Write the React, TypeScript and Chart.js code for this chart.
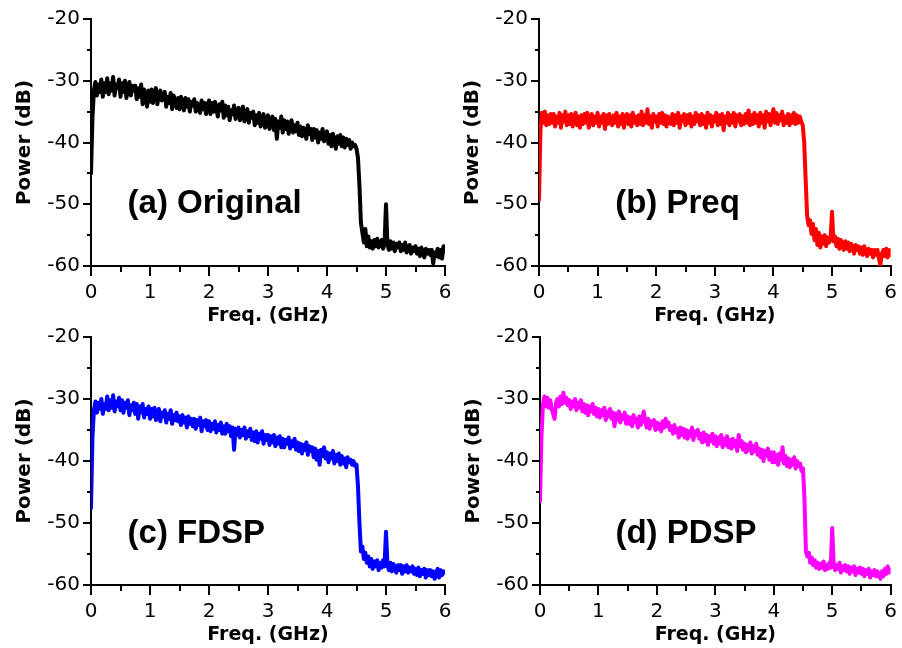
import React, { useEffect, useRef } from 'react';
import { Chart, registerables } from 'chart.js';

Chart.register(...registerables);

// Frequency sampling grid (GHz): sample i sits at i * FREQ_STEP_GHZ, 0 .. 6 GHz
const FREQ_STEP_GHZ = 0.025;

// (a) Original spectrum, dB (one row = 0.25 GHz)
const ORIGINAL_DB = [
  -45, -36, -31.5, -30.2, -32.4, -30.6, -31.8, -29.8, -32.6, -30.4,
  -31.8, -29.6, -32.2, -30.4, -31.6, -29.4, -32.4, -30.6, -31.2, -29.8,
  -32.6, -30.4, -31.8, -30, -32.8, -31.2, -30.2, -32.4, -30.8, -31.6,
  -30.8, -33, -31.2, -32.6, -30.6, -33.8, -31.4, -32.2, -34.2, -31.6,
  -33.4, -31.4, -33.6, -32, -31.2, -33.8, -32.2, -31.6, -33.2, -32.4,
  -31.8, -34.2, -32.6, -33.6, -32, -34.6, -32.4, -33.2, -34.4, -32.8,
  -34.6, -32.6, -33.8, -34.8, -32.8, -34.2, -33, -35, -33.4, -34,
  -33, -35, -33.6, -34.4, -35.2, -33.2, -34.6, -33.6, -35.4, -34,
  -33.2, -35.4, -33.6, -35, -33.4, -34.6, -35.8, -33.8, -34.8, -33.4,
  -36, -34, -35.6, -34.2, -36.4, -34.8, -35.4, -34, -36.2, -35,
  -34.4, -36.4, -35, -34.2, -36.6, -35.2, -34.6, -36.8, -35.2, -36,
  -35, -37.2, -35.6, -36.8, -35.2, -37.4, -36, -35.4, -37.6, -36.2,
  -35.6, -37.8, -36.4, -35.8, -38, -36.2, -39.4, -36.6, -37.6, -35.8,
  -38.4, -36.4, -37.8, -36.6, -38.6, -37, -36.4, -38.4, -37.2, -38.2,
  -36.8, -38.8, -37.4, -39, -37.6, -38.2, -39.4, -37.2, -38.6, -37.8,
  -39.6, -37.8, -39.2, -38, -40, -38.4, -39.4, -37.8, -39.8, -38.6,
  -38.2, -40.2, -38.8, -40.6, -38.6, -39.8, -41, -39, -40.2, -38.8,
  -40.6, -39.2, -40.8, -39.4, -40.4, -39.6, -41, -40, -40.6, -40.4,
  -41, -42.5, -47, -53, -54.6, -56.2, -54, -56.8, -55.2, -57,
  -56, -57.2, -55.8, -56.8, -55.6, -57, -56.2, -55.8, -57.2, -56.4,
  -50, -56.6, -57.4, -56, -57.2, -56.2, -57.6, -56.4, -57, -56.2,
  -57.6, -56.6, -57.4, -56.2, -57.8, -57, -56.6, -58, -57, -57.6,
  -56.8, -58, -57.2, -58.4, -57, -57.8, -58.6, -57.2, -58, -57.4,
  -58.2, -57.4, -59.6, -57.8, -58.4, -57.2, -58.6, -57.4, -58.8, -56.8,
  -57.6,
];

// (b) Pre-equalized spectrum, dB
const PREQ_DB = [
  -49.3, -38, -35.2, -36.8, -35, -37.2, -35.6, -37, -35.4, -36.8,
  -35.4, -37.4, -35.8, -36.8, -35.2, -37.6, -35.6, -36.6, -35, -37.2,
  -35.6, -37, -35.4, -37.4, -36, -35.2, -37.2, -35.8, -37.6, -35.6,
  -37, -35.4, -36.8, -35.2, -37.6, -36, -35.4, -37.2, -35.8, -36.8,
  -35.2, -37.4, -35.8, -36.8, -35.4, -37.8, -35.6, -37, -35.4, -36.6,
  -37.2, -35.6, -36.8, -35.2, -37.4, -35.8, -37, -35.4, -37.6, -36,
  -35.4, -37, -35.6, -37.4, -35.2, -36.8, -35.8, -37.2, -35.6, -37,
  -35, -37.2, -35.6, -36.8, -34.6, -37, -35.8, -37.6, -35.4, -36.6,
  -35.8, -37.4, -35.4, -36.8, -35.2, -37, -35.6, -37.4, -35.8, -36.4,
  -37, -35.4, -37.2, -35.6, -36.8, -35.2, -37.6, -35.8, -36.6, -35.4,
  -37.2, -35.6, -36.8, -35.4, -37.4, -35.8, -37, -35.2, -36.6, -35.6,
  -37.2, -35.4, -37, -35.8, -37.6, -35.2, -36.8, -35.6, -37.4, -35.8,
  -36.6, -35.2, -37.2, -35.6, -37, -35.4, -38, -35.8, -36.8, -35.2,
  -37.2, -35.6, -36.8, -35.2, -37.4, -35.6, -36.6, -35.4, -37.2, -35.8,
  -37, -35.4, -36.8, -34.8, -37.2, -35.6, -37, -35.2, -36.8, -35.6,
  -37.4, -35.2, -36.8, -35.6, -37.6, -35, -36.6, -35.4, -37.2, -35.6,
  -34.6, -36.8, -35.2, -37, -35.6, -36.4, -35, -37.2, -35.8, -36.8,
  -35.4, -37.2, -35.6, -36.8, -35.2, -37, -35.6, -36.8, -35.8, -36.6,
  -37.2, -40, -46, -51.8, -53.4, -52.6, -54.8, -53.2, -55.8, -54,
  -56.6, -54.6, -57, -55.2, -56.4, -55, -56.8, -55.4, -56.2, -55.6,
  -51.2, -56, -55.2, -56.8, -55.6, -57.2, -55.8, -56.6, -57.4, -56,
  -57.2, -56.2, -57.6, -56.4, -57, -58, -56.6, -57.4, -56.8, -58,
  -57, -58.2, -56.8, -57.6, -58.4, -57.2, -58, -57.4, -58.6, -57.4,
  -58.2, -57.4, -58.8, -59.8, -58, -57.4, -58.4, -57.2, -58.6, -57.4,
  -58.2,
];

// (c) FDSP spectrum, dB
const FDSP_DB = [
  -47.6, -36, -31.8, -30.4, -32.2, -30.6, -31.6, -30, -32.4, -30.8,
  -31.6, -29.6, -31.8, -30.2, -31.4, -29.4, -32, -30.4, -31.2, -29.8,
  -31.8, -30.2, -32.2, -30.6, -31.4, -30.2, -32.6, -31, -31.8, -30.6,
  -32.4, -30.8, -33.2, -31.2, -32.2, -30.8, -33, -31.6, -32.4, -31.2,
  -33.2, -31.6, -32.8, -31.4, -33.4, -32, -31.6, -33.6, -32.2, -32.8,
  -31.8, -33.8, -32.4, -33.2, -31.8, -34, -32.6, -33.4, -32.2, -33.6,
  -32.8, -34.2, -32.6, -33.8, -33, -34.6, -32.8, -34, -33.2, -34.4,
  -33.2, -34.8, -33.4, -34.2, -33, -35.2, -33.6, -34.4, -33.4, -35,
  -33.6, -35.2, -34, -34.8, -33.6, -35.4, -34.2, -35, -33.8, -35.6,
  -34.4, -35.6, -34, -35.2, -34.4, -36, -34.6, -38.2, -34.8, -35.8,
  -34.6, -36.2, -35, -35.8, -34.6, -36.4, -35.2, -36, -34.8, -36.6,
  -35.4, -36.8, -35.2, -37, -35.6, -36.4, -35.2, -37.2, -35.8, -36.6,
  -35.8, -37.4, -36, -37, -35.8, -37.6, -36.2, -37.2, -36, -37.8,
  -36.4, -37.8, -36.6, -37.2, -36.2, -38, -36.8, -37.6, -36.4, -38.2,
  -37, -38.4, -37.2, -38.8, -37.4, -38.2, -37, -39, -37.6, -38.4,
  -37.8, -39.4, -38, -39.8, -38.4, -40.6, -38.2, -39.2, -37.8, -39.6,
  -38.6, -40.2, -38.8, -39.6, -38.4, -40.4, -39, -40, -38.8, -40.6,
  -39.2, -40.4, -39.6, -41, -39.4, -40.2, -39.8, -40.6, -40, -40.8,
  -40.6, -44, -50, -54.6, -53.8, -55.8, -54.8, -56.4, -55.4, -57,
  -55.8, -57.4, -56.2, -57, -56, -57.6, -56.4, -57.2, -56, -57,
  -51.4, -56.8, -57.6, -56.4, -57.8, -56.6, -57.4, -58, -56.8, -57.6,
  -56.8, -58.2, -57, -57.8, -56.8, -58, -57.2, -57.8, -57, -58.2,
  -57.4, -58.4, -57.2, -58.6, -57.6, -58.2, -57.4, -58.8, -57.6, -58.4,
  -57.6, -58.6, -57.8, -59, -58, -57.4, -58.8, -57.6, -58.4, -57.8,
  -58,
];

// (d) PDSP spectrum, dB
const PDSP_DB = [
  -46.5, -36, -31, -29.6, -31.2, -29.8, -31.4, -30.2, -31.6, -32.4,
  -33.2, -30.6, -30, -31.2, -29.6, -30.8, -29, -30.6, -29.8, -31,
  -30.2, -31.6, -30.4, -31.2, -30, -31.8, -30.6, -31.4, -30.2, -32,
  -30.8, -32.2, -31, -32.6, -31.2, -32, -30.8, -32.4, -31.4, -32.8,
  -31.6, -33, -31.8, -32.6, -31.4, -33.4, -32, -32.8, -31.6, -33.2,
  -32.2, -34.4, -32.4, -33.4, -32, -33.8, -32.6, -33.2, -32.2, -34,
  -32.8, -34, -33, -34.4, -32.6, -33.8, -33.2, -34.6, -32.8, -34.2,
  -33.4, -32, -33.6, -34.6, -33.2, -34.8, -33.6, -34.2, -33.4, -35,
  -33.8, -34.8, -34, -35.2, -33.6, -34.6, -33.2, -34.4, -33.8, -35,
  -34.4, -35.6, -34.2, -35.4, -34.8, -36.2, -34.6, -35.8, -34.8, -36.2,
  -35, -36.4, -35.2, -36, -34.6, -36.6, -35.2, -35.8, -35, -36.4,
  -35.6, -37, -35.4, -36.8, -35.8, -37.4, -36, -36.8, -35.6, -37.2,
  -36, -37.6, -36.2, -37.2, -35.8, -37.8, -36.4, -37.4, -36, -37.8,
  -36.6, -38, -36.4, -37.6, -36.8, -38.4, -35.8, -37.6, -36.8, -38.2,
  -37.2, -38.6, -37.4, -38.2, -37, -38.8, -37.6, -38.4, -37.2, -39,
  -38, -39.4, -38.2, -40, -38.4, -39.2, -38, -39.8, -38.6, -40.2,
  -38.6, -40.2, -39, -40.6, -38.8, -39.8, -37.8, -40.4, -39.2, -40.8,
  -39.6, -41, -39.8, -40.6, -39.4, -41.2, -40, -40.8, -40.4, -41.6,
  -41.2, -46, -54.6, -55.4, -54.8, -56.4, -55.6, -56.8, -56, -57.2,
  -56.4, -57.4, -56.6, -57.2, -56.2, -57.6, -56.8, -57.4, -56.4, -57.2,
  -50.8, -56.6, -57.6, -56.8, -57.4, -56.4, -58, -57, -57.6, -56.8,
  -57.8, -57, -58.2, -57.2, -57.8, -57, -58.4, -57.4, -58, -57.2,
  -58.2, -57.4, -58.6, -57.6, -58.2, -57.4, -58.8, -57.8, -58.4, -57.6,
  -58.6, -57.8, -58.4, -59, -57.8, -58.6, -57.4, -58.2, -57, -58,
  -57.6,
];

const X_TICKS = [0, 1, 2, 3, 4, 5, 6];
const X_MINOR_TICKS = [0.5, 1.5, 2.5, 3.5, 4.5, 5.5];
const Y_TICKS = [-60, -50, -40, -30, -20];
const Y_MINOR_TICKS = [-55, -45, -35, -25];
const X_TITLE = 'Freq. (GHz)';
const Y_TITLE = 'Power (dB)';

const PANEL_LABELS = ['(a) Original', '(b) Preq', '(c) FDSP', '(d) PDSP'];
const PANEL_COLORS = ['#000000', '#ff0000', '#0000ff', '#ff00ff'];
const PANEL_SERIES = [ORIGINAL_DB, PREQ_DB, FDSP_DB, PDSP_DB];
// where each panel's label sits, in data coordinates (GHz, dB)
const LABEL_X = [0.62, 1.3, 0.62, 1.29];
const LABEL_Y = [-50, -50, -51.8, -51.8];

// layout (pixels)
const W = 902;
const H = 648;
const Y_BOX_W = 91;
const X_BOX_H = 61;
const AREAS = [
  { left: 91, right: 445, top: 19, bottom: 266 },
  { left: 539, right: 893, top: 19, bottom: 266 },
  { left: 91, right: 445, top: 337, bottom: 585 },
  { left: 540, right: 894, top: 337, bottom: 585 },
];

const TICK_FONT = 'DejaVu Sans';

const minorTicksPlugin = {
  id: 'minorTicks',
  afterDraw(chart: any) {
    const { ctx } = chart;
    const x = chart.scales.x;
    const y = chart.scales.y;
    ctx.save();
    ctx.strokeStyle = '#000';
    ctx.lineWidth = 2;
    ctx.beginPath();
    X_MINOR_TICKS.forEach((v) => {
      const px = Math.round(x.getPixelForValue(v));
      ctx.moveTo(px, x.top);
      ctx.lineTo(px, x.top + 6);
    });
    Y_MINOR_TICKS.forEach((v) => {
      const py = Math.round(y.getPixelForValue(v));
      ctx.moveTo(y.right - 4, py);
      ctx.lineTo(y.right, py);
    });
    ctx.stroke();
    ctx.restore();
  },
};

const panelLabelPlugin = {
  id: 'panelLabel',
  afterDatasetsDraw(chart: any, _args: any, opts: any) {
    const { ctx } = chart;
    const x = chart.scales.x;
    const y = chart.scales.y;
    ctx.save();
    ctx.font = 'bold 33px "Liberation Sans", Arial, sans-serif';
    ctx.fillStyle = '#000';
    ctx.textAlign = 'left';
    ctx.textBaseline = 'middle';
    ctx.fillText(opts.text, x.getPixelForValue(opts.x), y.getPixelForValue(opts.y));
    ctx.restore();
  },
};

function Panel({ index }: { index: number }) {
  const ref = useRef<HTMLCanvasElement | null>(null);
  useEffect(() => {
    const canvas = ref.current;
    if (!canvas) return;
    const area = AREAS[index];
    const values = PANEL_SERIES[index];
    const points = values.map((v, i) => ({ x: i * FREQ_STEP_GHZ, y: v }));
    const chart = new Chart(canvas, {
      type: 'line',
      data: {
        datasets: [
          {
            data: points,
            borderColor: PANEL_COLORS[index],
            borderWidth: 4,
            pointRadius: 0,
            tension: 0,
            fill: false,
            borderJoinStyle: 'round',
            borderCapStyle: 'round',
          } as any,
        ],
      },
      options: {
        animation: false,
        responsive: false,
        maintainAspectRatio: false,
        devicePixelRatio: 1,
        events: [],
        layout: {
          padding: {
            left: area.left - Y_BOX_W,
            top: area.top,
            right: W - area.right,
            bottom: H - area.bottom - X_BOX_H,
          },
        },
        plugins: {
          legend: { display: false },
          tooltip: { enabled: false },
          panelLabel: { text: PANEL_LABELS[index], x: LABEL_X[index], y: LABEL_Y[index] },
        } as any,
        scales: {
          x: {
            type: 'linear',
            min: 0,
            max: 6,
            afterBuildTicks: (s: any) => {
              s.ticks = X_TICKS.map((v) => ({ value: v }));
            },
            afterFit: (s: any) => {
              s.height = X_BOX_H;
            },
            ticks: {
              font: { family: TICK_FONT, size: 20 },
              color: '#000',
              padding: 5,
              maxRotation: 0,
              autoSkip: false,
            },
            grid: {
              drawOnChartArea: false,
              drawTicks: true,
              tickLength: 10,
              tickWidth: 2,
              tickColor: '#000',
              lineWidth: 2,
              color: '#000',
            },
            border: { display: true, color: '#000', width: 2 },
            title: {
              display: true,
              text: X_TITLE,
              color: '#000',
              font: { family: TICK_FONT, size: 19, weight: 'bold' },
              padding: { top: 0, bottom: 0 },
            },
          },
          y: {
            type: 'linear',
            min: -60,
            max: -20,
            afterBuildTicks: (s: any) => {
              s.ticks = Y_TICKS.map((v) => ({ value: v }));
            },
            afterFit: (s: any) => {
              s.width = Y_BOX_W;
            },
            ticks: {
              font: { family: TICK_FONT, size: 20 },
              color: '#000',
              padding: 3,
            },
            grid: {
              drawOnChartArea: false,
              drawTicks: true,
              tickLength: 8,
              tickWidth: 2,
              tickColor: '#000',
              lineWidth: 2,
              color: '#000',
            },
            border: { display: true, color: '#000', width: 2 },
            title: {
              display: true,
              text: Y_TITLE,
              color: '#000',
              font: { family: TICK_FONT, size: 20, weight: 'bold' },
              padding: { top: 13, bottom: 0 },
            },
          },
        },
      } as any,
      plugins: [minorTicksPlugin, panelLabelPlugin],
    });
    return () => chart.destroy();
  }, [index]);
  return (
    <canvas
      ref={ref}
      width={W}
      height={H}
      style={{ position: 'absolute', left: 0, top: 0, width: W, height: H }}
    />
  );
}

export default function App() {
  return (
    <div
      style={{
        position: 'fixed',
        left: 0,
        top: 0,
        width: W,
        height: H,
        background: '#ffffff',
        overflow: 'hidden',
      }}
    >
      {[0, 1, 2, 3].map((i) => (
        <Panel key={i} index={i} />
      ))}
    </div>
  );
}
